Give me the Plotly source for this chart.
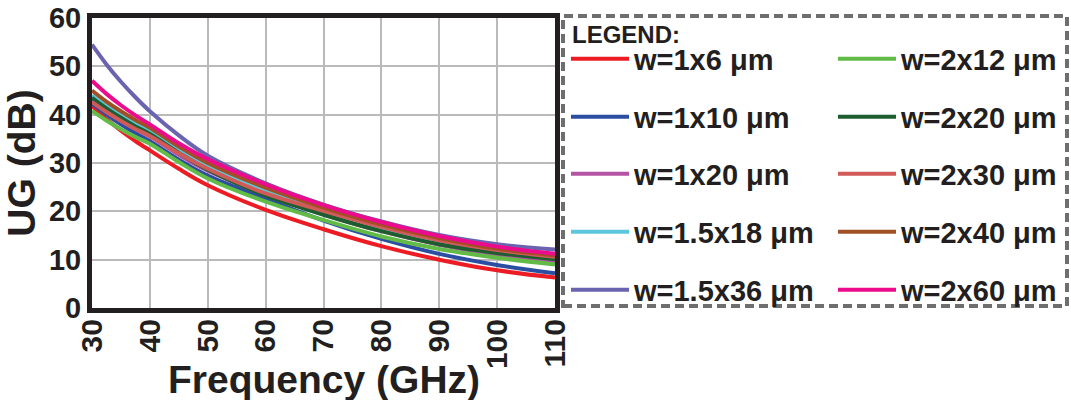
import plotly.graph_objects as go

freq = [30, 32.5, 35, 37.5, 40, 45, 50, 60, 70, 80, 90, 100, 110]

names = ["w=1x6 μm", "w=1x10 μm", "w=1x20 μm", "w=1.5x18 μm", "w=1.5x36 μm",
         "w=2x12 μm", "w=2x20 μm", "w=2x30 μm", "w=2x40 μm", "w=2x60 μm"]

ug_1x6 = [41.8, 39.1, 36.7, 34.55, 32.6, 28.8, 25.4, 20.3, 16.3, 12.8, 10.0, 7.8, 6.3]
ug_1x10 = [42.3, 40.05, 38.0, 36.15, 34.5, 30.7, 27.4, 22.6, 18.1, 14.3, 11.2, 8.9, 7.2]
ug_1x20 = [43.0, 40.8, 38.85, 37.05, 35.5, 31.7, 28.4, 23.5, 19.4, 15.9, 13.1, 11.0, 9.6]
ug_15x18 = [44.0, 41.9, 40.0, 38.3, 36.8, 32.9, 29.5, 24.5, 20.3, 16.7, 13.9, 11.8, 10.4]
ug_15x36 = [54.5, 50.4, 46.8, 43.6, 40.7, 35.7, 31.5, 25.8, 21.4, 17.9, 15.1, 13.2, 12.1]
ug_2x12 = [40.8, 38.8, 37.0, 35.4, 34.0, 30.2, 26.8, 22.0, 18.2, 14.8, 12.2, 10.4, 9.0]
ug_2x20 = [43.5, 41.3, 39.35, 37.55, 36.0, 32.1, 28.6, 23.3, 19.3, 15.9, 13.2, 11.4, 10.1]
ug_2x30 = [42.6, 40.55, 38.7, 37.05, 35.6, 32.0, 28.8, 23.7, 20.1, 16.8, 14.0, 12.0, 10.6]
ug_2x40 = [45.0, 42.7, 40.7, 38.9, 37.3, 33.4, 30.0, 24.9, 20.8, 17.3, 14.5, 12.3, 10.9]
ug_2x60 = [47.0, 44.3, 41.95, 39.85, 38.0, 34.1, 30.8, 25.6, 21.3, 17.8, 14.9, 12.7, 11.2]

series = [ug_1x6, ug_1x10, ug_1x20, ug_15x18, ug_15x36,
          ug_2x12, ug_2x20, ug_2x30, ug_2x40, ug_2x60]
colors = ["#ed1c24", "#2b4ea2", "#b654a4", "#5cc7dc", "#6a63b0",
          "#63bb47", "#1d5d30", "#d05a58", "#a14f24", "#ec0b8c"]

x_ticks = [30, 40, 50, 60, 70, 80, 90, 100, 110]
y_ticks = [0, 10, 20, 30, 40, 50, 60]

FONT = "Liberation Sans, Arial, sans-serif"
INK = "#231f20"

L = 92
R = 555
T = 18
B = 308
W = 1071
H = 400
PW = R - L
PH = B - T


def px_x(px):
    return (px - L) / PW


def px_y(py):
    return (B - py) / PH


# legend layout (pixel positions of the legend grid)
row_centers = [59, 117, 174, 232, 290]
col_left = [566, 833]

fig = go.Figure()
legend_defs = {}
legend_font = dict(family=FONT, size=29, color=INK, weight="bold")
for i, (nm, ys, c) in enumerate(zip(names, series, colors)):
    lid = "legend" if i == 0 else "legend%d" % (i + 1)
    fig.add_trace(go.Scatter(
        x=freq, y=ys, name=nm, mode="lines",
        line=dict(color=c, width=4, shape="spline", smoothing=1.0),
        legend=lid,
    ))
    col = i // 5
    row = i % 5
    legend_defs[lid] = dict(
        x=px_x(col_left[col]), y=px_y(row_centers[row]),
        xanchor="left", yanchor="middle",
        font=legend_font, itemwidth=58,
        bgcolor="rgba(0,0,0,0)", borderwidth=0,
    )

fig.update_layout(
    width=W, height=H,
    margin=dict(l=L, r=W - R, t=T, b=H - B, autoexpand=False),
    paper_bgcolor="white", plot_bgcolor="white",
    showlegend=True,
    xaxis=dict(
        range=[30, 110], tickvals=x_ticks, ticktext=[str(v) for v in x_ticks],
        tickangle=-90, tickfont=dict(family=FONT, size=30, color=INK, weight="bold"),
        showgrid=True, gridcolor="#bababa", gridwidth=2,
        showline=True, linecolor=INK, linewidth=5, mirror=True,
        zeroline=False, ticks="", ticklabelstandoff=-6,
    ),
    yaxis=dict(
        range=[0, 60], tickvals=y_ticks,
        tickfont=dict(family=FONT, size=29, color=INK, weight="bold"),
        showgrid=True, gridcolor="#bababa", gridwidth=2,
        showline=True, linecolor=INK, linewidth=5, mirror=True,
        zeroline=False, ticks="",
        title=dict(text="UG (dB)", font=dict(family=FONT, size=39, color=INK, weight="bold"), standoff=3),
    ),
    annotations=[
        dict(text="Frequency (GHz)", xref="paper", yref="paper", x=0.5, y=0,
             xanchor="center", yanchor="middle", yshift=-71, showarrow=False,
             font=dict(family=FONT, size=39, color=INK, weight="bold")),
        dict(text="LEGEND:", xref="paper", yref="paper", x=px_x(570), y=px_y(34),
             xanchor="left", yanchor="middle", showarrow=False,
             font=dict(family=FONT, size=24, color=INK, weight="bold")),
    ],
    shapes=[dict(
        type="rect", xref="paper", yref="paper",
        x0=px_x(563), x1=px_x(1067),
        y0=px_y(306), y1=px_y(16),
        line=dict(color="#6d6e70", width=4, dash="9px,5px"),
        fillcolor="rgba(0,0,0,0)", layer="above",
    )],
)
fig.update_layout(**legend_defs)

fig.write_html("out.html")
